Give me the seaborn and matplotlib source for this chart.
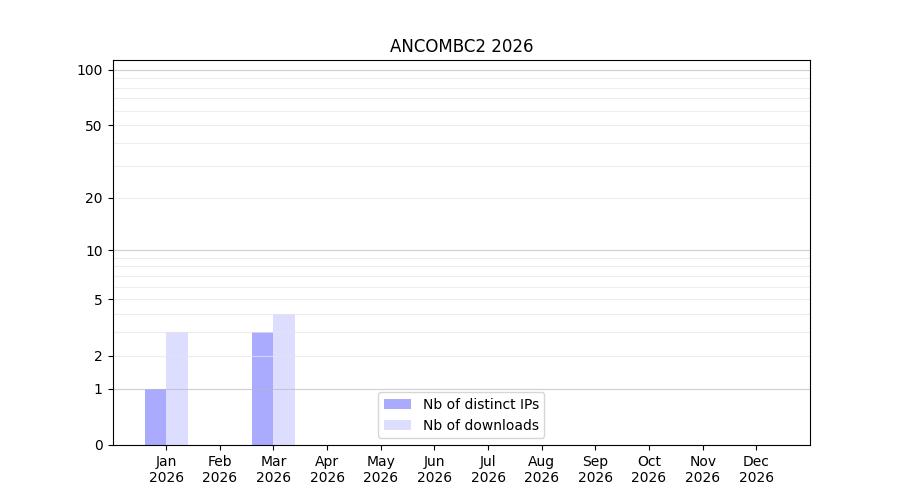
import numpy as np
import pandas as pd
import matplotlib
matplotlib.use('Agg')
import matplotlib.pyplot as plt
import seaborn as sns

# data
months = ['Jan', 'Feb', 'Mar', 'Apr', 'May', 'Jun', 'Jul', 'Aug', 'Sep', 'Oct', 'Nov', 'Dec']
year = '2026'
distinct_ips = [1, 0, 3, 0, 0, 0, 0, 0, 0, 0, 0, 0]
downloads = [3, 0, 4, 0, 0, 0, 0, 0, 0, 0, 0, 0]
y_ticks = [0, 1, 2, 5, 10, 20, 50, 100]
decade_lines = [1, 10, 100]
light_lines = [2, 3, 4, 5, 6, 7, 8, 9, 20, 30, 40, 50, 60, 70, 80, 90]

df = pd.DataFrame({
    'month': months * 2,
    'value': distinct_ips + downloads,
    'series': ['Nb of distinct IPs'] * 12 + ['Nb of downloads'] * 12,
})

sns.set_style('white')
plt.rcParams['font.family'] = ['DejaVu Sans']
for k in ['text.color', 'axes.labelcolor', 'xtick.color', 'ytick.color']:
    plt.rcParams[k] = 'black'

fig, ax = plt.subplots(figsize=(9, 5), dpi=100)

ax.set_yscale('function', functions=(lambda y: np.log10(1 + np.clip(y, 0, None)),
                                     lambda x: 10 ** x - 1))

sns.barplot(data=df, x='month', y='value', hue='series', order=months,
            palette=['#aaaaff', '#ddddff'], saturation=1, width=0.8,
            linewidth=0, ax=ax)

# grid lines sit on top of the pale bars but under the spines
for v in light_lines:
    ax.axhline(v, color='#e6e6e6', lw=0.8, alpha=0.7, zorder=2)
for v in decade_lines:
    ax.axhline(v, color='#bbbbbb', lw=0.8, alpha=0.7, zorder=2)

ax.set_ylim(0, 113)
ax.set_xlim(-1, 12)
ax.set_yticks(y_ticks)
ax.set_yticklabels([str(t) for t in y_ticks])
ax.set_xticks(range(len(months)))
ax.set_xticklabels([f'{m}\n{year}' for m in months])
ax.set_xlabel('')
ax.set_ylabel('')
ax.set_title('ANCOMBC2 2026', color='black')
ax.tick_params(axis='both', which='major', length=3.5, width=0.8, direction='out',
               bottom=True, left=True, labelsize=10, color='black', labelcolor='black')
for s in ax.spines.values():
    s.set_color('black')
    s.set_linewidth(0.8)
    s.set_zorder(3)

handles, labels = ax.get_legend_handles_labels()
leg = ax.legend(handles, labels, loc='lower center', frameon=True)
leg.set_zorder(5)

fig.subplots_adjust(left=0.125, right=0.9, bottom=0.11, top=0.88)
fig.savefig('out.png', dpi=100)
